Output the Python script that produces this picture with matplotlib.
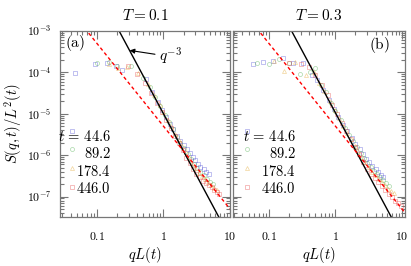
import matplotlib
matplotlib.use("Agg")
import numpy as np
import matplotlib.pyplot as plt
from matplotlib.ticker import LogLocator, NullFormatter, FixedLocator, FixedFormatter

plt.rcParams['mathtext.fontset'] = 'cm'
plt.rcParams['font.family'] = ['DejaVu Serif']

# leyenda / series
tiempos = ['44.6', '89.2', '178.4', '446.0']
colores = ['#3a3ad0', '#3aa53a', '#e0a020', '#e03030']
marcadores = ['s', 'o', '^', 's']

# panel (a): T = 0.1
qa_1 = [0.046, 0.092, 0.14, 0.19, 0.24, 0.55, 0.68, 0.82, 0.95, 1.1, 1.25, 1.4, 1.6, 1.8, 2.0, 2.25, 2.5,
        2.75, 3.0, 3.3, 3.6, 4.0, 4.4, 4.8]
Sa_1 = [9.5e-5, 1.6e-4, 1.7e-4, 1.4e-4, 1.15e-4, 6.8e-5, 3.4e-5, 1.9e-5, 1.25e-5, 8.5e-6, 5.6e-6, 4.2e-6,
        2.9e-6, 2.2e-6, 1.8e-6, 1.4e-6, 1.1e-6, 9.0e-7, 7.5e-7, 6.2e-7, 5.2e-7, 4.5e-7, 3.9e-7, 3.6e-7]
qa_2 = [0.1, 0.15, 0.2, 0.33, 0.5, 0.62, 0.75, 0.9, 1.05, 1.2, 1.4, 1.6, 1.8, 2.0, 2.3, 2.6, 2.9, 3.2, 3.6,
        4.0, 4.5, 5.0, 5.5]
Sa_2 = [1.7e-4, 1.75e-4, 1.45e-4, 1.4e-4, 7.5e-5, 4.5e-5, 2.6e-5, 1.5e-5, 9.5e-6, 6.5e-6, 4.3e-6, 2.8e-6,
        2.0e-6, 1.5e-6, 1.05e-6, 8.0e-7, 6.2e-7, 5.0e-7, 4.0e-7, 3.3e-7, 2.7e-7, 2.3e-7, 2.0e-7]
qa_3 = [0.15, 0.21, 0.28, 0.42, 0.58, 0.72, 0.88, 1.0, 1.15, 1.3, 1.5, 1.7, 1.9, 2.15, 2.4, 2.7, 3.0, 3.4,
        3.8, 4.2, 4.7, 5.2, 5.8, 6.4]
Sa_3 = [1.6e-4, 1.3e-4, 1.35e-4, 9.5e-5, 5.2e-5, 2.8e-5, 1.6e-5, 1.1e-5, 7.2e-6, 5.0e-6, 3.3e-6, 2.3e-6,
        1.7e-6, 1.2e-6, 9.0e-7, 6.5e-7, 5.0e-7, 3.8e-7, 3.1e-7, 2.6e-7, 2.2e-7, 1.85e-7, 1.6e-7, 1.4e-7]
qa_4 = [0.29, 0.4, 0.52, 0.65, 0.8, 0.95, 1.1, 1.3, 1.5, 1.7, 1.95, 2.2, 2.5, 2.8, 3.1, 3.5, 3.9, 4.3, 4.8,
        5.3, 5.8, 6.3, 6.9]
Sa_4 = [1.45e-4, 9.0e-5, 5.5e-5, 3.2e-5, 1.8e-5, 1.1e-5, 7.0e-6, 4.5e-6, 2.9e-6, 2.0e-6, 1.3e-6, 8.5e-7,
        6.5e-7, 4.6e-7, 3.6e-7, 2.9e-7, 2.4e-7, 2.1e-7, 1.9e-7, 1.7e-7, 1.45e-7, 1.3e-7, 1.15e-7]

# panel (b): T = 0.3
qb_1 = [0.057, 0.08, 0.115, 0.16, 0.23, 0.33, 0.44, 0.53, 0.65, 0.8, 0.95, 1.1, 1.3, 1.5, 1.75, 2.0, 2.3,
        2.6, 2.9, 3.2, 3.6, 4.0, 4.4, 4.8, 5.2]
Sb_1 = [1.6e-4, 1.75e-4, 1.9e-4, 2.2e-4, 1.7e-4, 1.7e-4, 8.5e-5, 6.6e-5, 3.8e-5, 2.1e-5, 1.3e-5, 8.5e-6,
        5.5e-6, 3.8e-6, 2.6e-6, 1.9e-6, 1.4e-6, 1.05e-6, 8.2e-7, 6.8e-7, 5.5e-7, 4.5e-7, 3.9e-7, 3.4e-7, 3.0e-7]
qb_2 = [0.066, 0.1, 0.14, 0.2, 0.29, 0.41, 0.5, 0.6, 0.72, 0.86, 1.0, 1.2, 1.4, 1.6, 1.85, 2.1, 2.4, 2.7,
        3.0, 3.4, 3.8, 4.2, 4.7, 5.2, 5.8, 6.4]
Sb_2 = [1.7e-4, 1.6e-4, 2.1e-4, 1.65e-4, 9.0e-5, 1.05e-4, 1.3e-4, 5.0e-5, 3.3e-5, 1.8e-5, 1.15e-5, 7.0e-6,
        4.6e-6, 3.1e-6, 2.2e-6, 1.6e-6, 1.15e-6, 8.5e-7, 6.6e-7, 5.2e-7, 4.2e-7, 3.5e-7, 2.9e-7, 2.5e-7,
        2.1e-7, 1.8e-7]
qb_3 = [0.12, 0.17, 0.25, 0.36, 0.47, 0.56, 0.68, 0.82, 0.97, 1.12, 1.3, 1.5, 1.7, 1.95, 2.2, 2.5, 2.8, 3.2,
        3.6, 4.0, 4.5, 5.0, 5.6, 6.2, 6.8, 7.5]
Sb_3 = [1.9e-4, 1.1e-4, 1.75e-4, 8.7e-5, 1.0e-4, 5.5e-5, 3.6e-5, 2.0e-5, 1.2e-5, 7.8e-6, 5.0e-6, 3.4e-6,
        2.4e-6, 1.7e-6, 1.25e-6, 9.0e-7, 6.8e-7, 5.2e-7, 4.0e-7, 3.3e-7, 2.7e-7, 2.2e-7, 1.85e-7, 1.55e-7,
        1.35e-7, 1.2e-7]
qb_4 = [0.2, 0.3, 0.4, 0.5, 0.62, 0.76, 0.9, 1.05, 1.25, 1.45, 1.7, 1.95, 2.25, 2.6, 3.0, 3.4, 3.9, 4.4,
        5.0, 5.6, 6.3, 7.0, 7.8, 8.6, 9.5]
Sb_4 = [1.7e-4, 1.6e-4, 1.35e-4, 8.5e-5, 5.0e-5, 2.8e-5, 1.6e-5, 1.0e-5, 6.0e-6, 3.8e-6, 2.4e-6, 1.6e-6,
        1.05e-6, 6.8e-7, 4.6e-7, 3.6e-7, 2.8e-7, 2.2e-7, 1.75e-7, 1.4e-7, 1.15e-7, 9.5e-8, 8.0e-8, 6.8e-8,
        5.8e-8]

# prefactores de las rectas q^-3 (negra) y q^-2 (roja)
A3_a, A3_b = 1.0e-5, 1.05e-5
A2_a, A2_b = 5.0e-6, 5.0e-6

gris = '#777777'


def estilo_ejes(ax, xlim, etiquetas_y):
    ax.set_xscale('log')
    ax.set_yscale('log')
    ax.set_xlim(*xlim)
    ax.set_ylim(3.2e-8, 1e-3)
    for s in ax.spines.values():
        s.set_color(gris)
        s.set_linewidth(0.9)
    ax.xaxis.set_major_locator(FixedLocator([0.1, 1, 10]))
    ax.xaxis.set_major_formatter(FixedFormatter([r'$\mathsf{0.1}$', r'$\mathsf{1}$', r'$\mathsf{10}$']))
    ax.xaxis.set_minor_locator(LogLocator(base=10, subs=np.arange(2, 10), numticks=20))
    ax.xaxis.set_minor_formatter(NullFormatter())
    ax.yaxis.set_major_locator(FixedLocator([1e-7, 1e-6, 1e-5, 1e-4, 1e-3]))
    if etiquetas_y:
        ax.yaxis.set_major_formatter(FixedFormatter(
            [r'$\mathsf{10^{-7}}$', r'$\mathsf{10^{-6}}$', r'$\mathsf{10^{-5}}$',
             r'$\mathsf{10^{-4}}$', r'$\mathsf{10^{-3}}$']))
    else:
        ax.yaxis.set_major_formatter(NullFormatter())
    ax.yaxis.set_minor_locator(LogLocator(base=10, subs=np.arange(2, 10), numticks=20))
    ax.yaxis.set_minor_formatter(NullFormatter())
    ax.tick_params(which='both', direction='in', top=True, right=True, color=gris, width=0.8)
    ax.tick_params(which='major', length=5.5, labelsize=8.5)
    ax.tick_params(which='minor', length=3)
    ax.tick_params(axis='x', which='major', pad=9)
    ax.tick_params(axis='y', which='major', pad=6)


def dibujar_panel(ax, series, A3, A2, xlim):
    qq = np.logspace(np.log10(xlim[0]), np.log10(xlim[1]), 200)
    for (q, S), c, m in zip(series, colores, marcadores):
        ax.plot(q, S, linestyle='none', marker=m, ms=2.9, mfc='none', mec=c, mew=0.5, alpha=0.45)
    ax.plot(qq, A3 * qq ** -3, color='black', lw=1.0)
    ax.plot(qq, A2 * qq ** -2, color='red', lw=1.0, dashes=(2.5, 2))


def leyenda(ax, x_texto, x_marca):
    ys_texto = [0.435, 0.339, 0.242, 0.151]
    ys_marca = [0.462, 0.366, 0.263, 0.161]
    for i, (t, c, m) in enumerate(zip(tiempos, colores, marcadores)):
        etiqueta = r'$t\,=\,' + t + '$' if i == 0 else '$' + t + '$'
        ax.text(x_texto, ys_texto[i], etiqueta, transform=ax.transAxes, ha='right', va='center',
                fontsize=10.5)
        ax.plot([x_marca], [ys_marca[i]], transform=ax.transAxes, linestyle='none', marker=m, ms=2.9,
                mfc='none', mec=c, mew=0.5, alpha=0.45, clip_on=False)


fig = plt.figure(figsize=(4.11, 2.66), dpi=100)
ax_a = fig.add_axes([60 / 411, 1 - 217 / 266, 170 / 411, 186 / 266])
ax_b = fig.add_axes([233 / 411, 1 - 217 / 266, 172 / 411, 186 / 266])

xlim_a = (0.0278, 10.0)
xlim_b = (0.0288, 11.1)

dibujar_panel(ax_a, [(qa_1, Sa_1), (qa_2, Sa_2), (qa_3, Sa_3), (qa_4, Sa_4)], A3_a, A2_a, xlim_a)
dibujar_panel(ax_b, [(qb_1, Sb_1), (qb_2, Sb_2), (qb_3, Sb_3), (qb_4, Sb_4)], A3_b, A2_b, xlim_b)
estilo_ejes(ax_a, xlim_a, True)
estilo_ejes(ax_b, xlim_b, False)

leyenda(ax_a, 0.30, 0.07)
leyenda(ax_b, 0.366, 0.081)

for ax, titulo in [(ax_a, r'$T = 0.1$'), (ax_b, r'$T = 0.3$')]:
    ax.text(0.5, 1.085, titulo, transform=ax.transAxes, ha='center', va='center', fontsize=11)
    ax.set_xlabel(r'$qL(t)$', fontsize=10.5, labelpad=2)

ax_a.set_ylabel(r'$S(q,t)/L^2(t)$', fontsize=10.5, labelpad=2)
ax_a.text(0.03, 0.935, r'$\mathrm{(a)}$', transform=ax_a.transAxes, ha='left', va='center', fontsize=11)
ax_b.text(0.915, 0.925, r'$\mathrm{(b)}$', transform=ax_b.transAxes, ha='right', va='center', fontsize=11)

ax_a.annotate(r'$q^{-3}$', xy=(0.31, 3.4e-4), xytext=(0.86, 2.4e-4), fontsize=11, va='center',
              arrowprops=dict(arrowstyle='-|>', color='black', lw=0.8, mutation_scale=7, shrinkA=1, shrinkB=0))

fig.savefig('out.png', dpi=100)
